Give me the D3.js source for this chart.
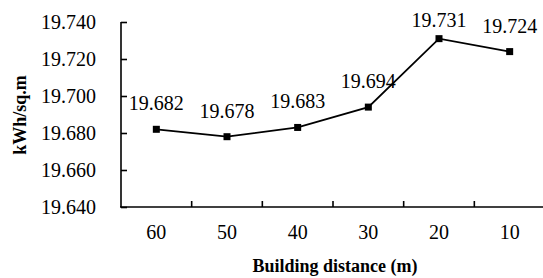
<!DOCTYPE html>
<html>
<head>
<meta charset="utf-8">
<script src="https://cdn.jsdelivr.net/npm/d3@7"></script>
<style>
  body { margin: 0; background: #fff; }
  svg text { font-family: "Liberation Serif", "Times New Roman", serif !important; fill: #000; }
</style>
</head>
<body>
<svg id="chart" width="543" height="278"></svg>
<script>
// chart data
const distances = ['60', '50', '40', '30', '20', '10']
const energy = [19.682, 19.678, 19.683, 19.694, 19.731, 19.724]
const yTicks = [19.640, 19.660, 19.680, 19.700, 19.720, 19.740]

const SERIF = '"Liberation Serif"'
const margin = { top: 22, right: -2, bottom: 71, left: 121 }
const width = 543 - margin.left - margin.right
const height = 278 - margin.top - margin.bottom

const svg = d3.select('svg#chart')
const g = svg.append('g')
  .attr('transform', `translate(${margin.left},${margin.top})`)

const x = d3.scaleBand()
  .domain(distances)
  .range([0, width])

const y = d3.scaleLinear()
  .domain([19.640, 19.740])
  .range([height, 0])

// y axis, ticks pointing inwards
const yAxis = g.append('g')
  .call(d3.axisLeft(y).tickValues(yTicks).tickFormat(d3.format('.3f')).tickSize(-6).tickPadding(25))
yAxis.attr('font-family', null).attr('font-size', null)
yAxis.select('.domain').attr('stroke-width', 1.6).attr('d', `M0,${height}V0H-0`)
yAxis.selectAll('.tick line').attr('stroke-width', 1.6)
yAxis.selectAll('.tick text')
  .attr('dy', '0.34em')
  .style('font', `20px ${SERIF}`)

// x axis: ticks at band boundaries, pointing up
const xAxis = g.append('g')
  .attr('transform', `translate(0,${height})`)
xAxis.append('line')
  .attr('x1', -1).attr('x2', width)
  .attr('stroke', '#000').attr('stroke-width', 1.6)
xAxis.selectAll('line.tick')
  .data(distances.slice(1))
  .join('line')
  .classed('tick', true)
  .attr('x1', d => x(d)).attr('x2', d => x(d))
  .attr('y1', 0).attr('y2', -6)
  .attr('stroke', '#000').attr('stroke-width', 1.6)
xAxis.selectAll('text')
  .data(distances)
  .join('text')
  .attr('x', d => x(d) + x.bandwidth() / 2)
  .attr('y', 32)
  .attr('text-anchor', 'middle')
  .style('font', `20px ${SERIF}`)
  .text(d => d)

// line and markers
const px = (d, i) => x(distances[i]) + x.bandwidth() / 2
const valueLine = d3.line().x(px).y(d => y(d))
g.append('path')
  .datum(energy)
  .attr('d', valueLine)
  .attr('fill', 'none')
  .attr('stroke', '#000')
  .attr('stroke-width', 1.8)

g.selectAll('rect.marker')
  .data(energy)
  .join('rect')
  .classed('marker', true)
  .attr('x', (d, i) => px(d, i) - 3.5)
  .attr('y', d => y(d) - 3.5)
  .attr('width', 7)
  .attr('height', 7)
  .attr('fill', '#000')

// data labels above points, kept inside the top edge
g.selectAll('text.label')
  .data(energy)
  .join('text')
  .classed('label', true)
  .attr('x', (d, i) => px(d, i))
  .attr('y', d => Math.max(y(d) - 19, 5))
  .attr('text-anchor', 'middle')
  .style('font', `20px ${SERIF}`)
  .text(d => d3.format('.3f')(d))

// axis titles
svg.append('text')
  .attr('x', 335)
  .attr('y', 272)
  .attr('text-anchor', 'middle')
  .style('font', `bold 18px ${SERIF}`)
  .text('Building distance (m)')

svg.append('text')
  .attr('transform', 'translate(26,115) rotate(-90)')
  .attr('text-anchor', 'middle')
  .style('font', `bold 18px ${SERIF}`)
  .text('kWh/sq.m')
</script>
</body>
</html>
